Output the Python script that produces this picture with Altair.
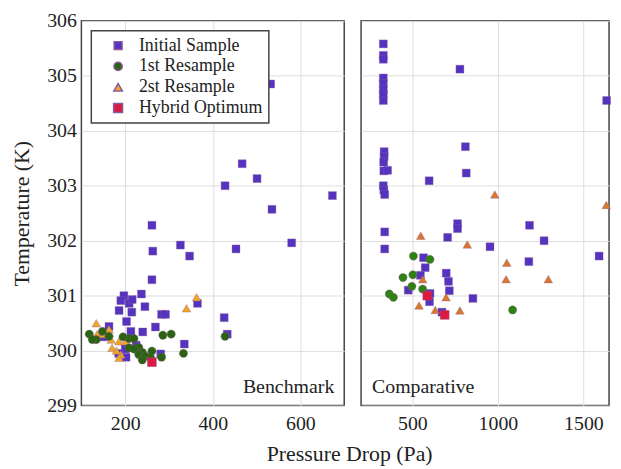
import altair as alt
import pandas as pd

SERIES = ["Initial Sample", "1st Resample", "2st Resample", "Hybrid Optimum"]
SHAPES = ["square", "circle", "triangle-up", "square"]
SIZES = [64, 81, 120, 64]

# ---- Benchmark panel ----
bm_init_p = [532, 467, 428, 501, 535, 673, 261, 263, 326, 347, 453, 580, 261, 197, 190, 186, 209, 216,
             237, 245, 215, 203, 269, 283, 292, 240, 213, 365, 426, 335, 163, 433, 281, 202, 200, 150, 185, 225]
bm_init_t = [304.85, 303.40, 303.00, 303.13, 302.57, 302.82, 302.28, 301.81, 301.92, 301.72, 301.85, 301.96,
             301.29, 301.00, 300.91, 300.73, 300.86, 300.93, 301.03, 300.80, 300.70, 300.53, 300.43, 300.66,
             300.66, 300.34, 300.35, 300.86, 300.60, 300.12, 300.44, 300.30, 299.94, 299.88, 300.03, 300.25,
             299.95, 300.10]
bm_r1_p = [118, 134, 148, 163, 209, 220, 209, 231, 239, 231, 246, 239, 261, 258, 283, 286, 305, 333, 428, 220, 195, 125]
bm_r1_t = [300.30, 300.20, 300.35, 300.26, 300.22, 300.22, 300.05, 300.06, 299.97, 299.93, 299.90, 299.83,
           299.99, 299.87, 299.88, 300.28, 300.30, 299.95, 300.26, 300.03, 300.25, 300.20]
bm_r2_p = [134, 136, 163, 168, 186, 190, 186, 170, 201, 340, 363, 150, 180]
bm_r2_t = [300.50, 300.30, 300.39, 300.20, 300.17, 299.93, 299.87, 300.05, 300.17, 300.77, 300.97, 300.30, 300.00]
bm_hy_p = [261]
bm_hy_t = [299.79]

# ---- Comparative panel ----
cp_init_p = [330, 330, 330, 330, 330, 330, 330, 330, 335, 335, 332, 333, 355, 330, 333, 338, 338, 338,
             778, 1636, 810, 815, 598, 1185, 764, 764, 706, 1270, 954, 1592, 1181, 565, 575, 547, 698, 711,
             476, 603, 716, 600, 854, 673]
cp_init_t = [305.58, 305.37, 305.30, 304.96, 304.86, 304.75, 304.67, 304.55, 303.62, 303.53, 303.43, 303.27,
             303.28, 303.00, 302.92, 302.84, 302.16, 301.85, 305.12, 304.55, 303.71, 303.23, 303.09, 302.28,
             302.31, 302.22, 302.06, 302.00, 301.89, 301.72, 301.62, 301.69, 301.51, 301.37, 301.41, 301.26,
             301.10, 301.04, 301.09, 300.89, 300.95, 300.70]
cp_r1_p = [506, 603, 445, 503, 497, 560, 365, 389, 1086]
cp_r1_t = [301.72, 301.66, 301.33, 301.38, 301.17, 301.12, 301.03, 300.97, 300.74]
cp_r2_p = [549, 982, 1634, 821, 1052, 1048, 1295, 560, 697, 539, 634, 778]
cp_r2_t = [302.09, 302.84, 302.65, 301.93, 301.60, 301.30, 301.30, 301.30, 300.97, 300.82, 300.74, 300.73]
cp_hy_p = [587, 689]
cp_hy_t = [301.00, 300.65]

Y_TICKS = [299, 300, 301, 302, 303, 304, 305, 306]
BM_X_TICKS = [200, 400, 600]
CP_X_TICKS = [500, 1000, 1500]

DRAW_ORDER = {"Initial Sample": 0, "2st Resample": 1, "1st Resample": 2, "Hybrid Optimum": 3}


def frame(groups):
    rows = []
    for name, ps, ts in groups:
        for p, t in zip(ps, ts):
            rows.append({"p": p, "t": t, "series": name, "k": DRAW_ORDER[name]})
    return pd.DataFrame(rows)


bm_df = frame([("Initial Sample", bm_init_p, bm_init_t), ("1st Resample", bm_r1_p, bm_r1_t),
               ("2st Resample", bm_r2_p, bm_r2_t), ("Hybrid Optimum", bm_hy_p, bm_hy_t)])
cp_df = frame([("Initial Sample", cp_init_p, cp_init_t), ("1st Resample", cp_r1_p, cp_r1_t),
               ("2st Resample", cp_r2_p, cp_r2_t), ("Hybrid Optimum", cp_hy_p, cp_hy_t)])

GRID = "#dedede"
FONT = "Liberation Serif"
LBL = dict(labelFont=FONT, labelFontSize=20, labelColor="#222", titleFont=FONT, titleFontSize=22,
           titleColor="#222", titleFontWeight="normal", ticks=False, domain=False, gridColor=GRID,
           format="d")


def panel(df, xdom, xticks, width, colors, left, label, label_x, label_align):
    if left:
        legend = alt.Legend(
            title=None, orient="top-left", offset=10, fillColor="white",
            strokeColor="#444", padding=6, labelFont=FONT, labelFontSize=18,
            labelColor="#222", symbolSize=22, symbolOffset=12, labelOffset=12, rowPadding=3,
        )
        xaxis = alt.Axis(values=xticks, title="Pressure Drop (Pa)", titleX=270, titleY=48,
                         titleBaseline="middle", labelPadding=8, **LBL)
        yaxis = alt.Axis(values=Y_TICKS, title="Temperature (K)", labelPadding=5, titlePadding=13, **LBL)
    else:
        legend = None
        xaxis = alt.Axis(values=xticks, title=None, labelPadding=8, **LBL)
        yaxis = alt.Axis(values=Y_TICKS, title=None, labels=False, minExtent=0, **LBL)
    pts = alt.Chart(df).mark_point(filled=True, opacity=1, stroke="#8a5a9a", strokeWidth=0.6,
                                   strokeOpacity=0.6).encode(
        x=alt.X("p:Q", scale=alt.Scale(domain=xdom, nice=False, zero=False), axis=xaxis),
        y=alt.Y("t:Q", scale=alt.Scale(domain=[299, 306], nice=False, zero=False), axis=yaxis),
        color=alt.Color("series:N", scale=alt.Scale(domain=SERIES, range=colors), legend=legend),
        shape=alt.Shape("series:N", scale=alt.Scale(domain=SERIES, range=SHAPES), legend=legend),
        size=alt.Size("series:N", scale=alt.Scale(domain=SERIES, range=SIZES), legend=None),
        order=alt.Order("k:Q"),
    )
    txt = alt.Chart(pd.DataFrame({"label": [label]})).mark_text(
        font=FONT, fontSize=20, color="#222", align=label_align, baseline="alphabetic"
    ).encode(x=alt.value(label_x), y=alt.value(375), text="label:N")
    return alt.layer(pts, txt).properties(width=width, height=388)


left = panel(bm_df, [100, 700], BM_X_TICKS, 265,
             ["#5533c0", "#2b6410", "#f0a526", "#d81a45"],
             True, "Benchmark", 255, "right")
right = panel(cp_df, [200, 1650], CP_X_TICKS, 250,
              ["#5533c0", "#2f8212", "#d9772e", "#e01840"],
              False, "Comparative", 11, "left")

chart = alt.hconcat(left, right, spacing=17, bounds="flush").resolve_scale(
    color="independent", shape="independent", size="independent",
    x="independent", y="independent",
).properties(
    padding={"left": 2, "top": 0, "right": 0, "bottom": 0}
).configure_legend(strokeWidth=1.5).configure_view(stroke="#444", strokeWidth=1.5)

chart.save("out.html", embed_options={"renderer": "svg", "actions": False})
